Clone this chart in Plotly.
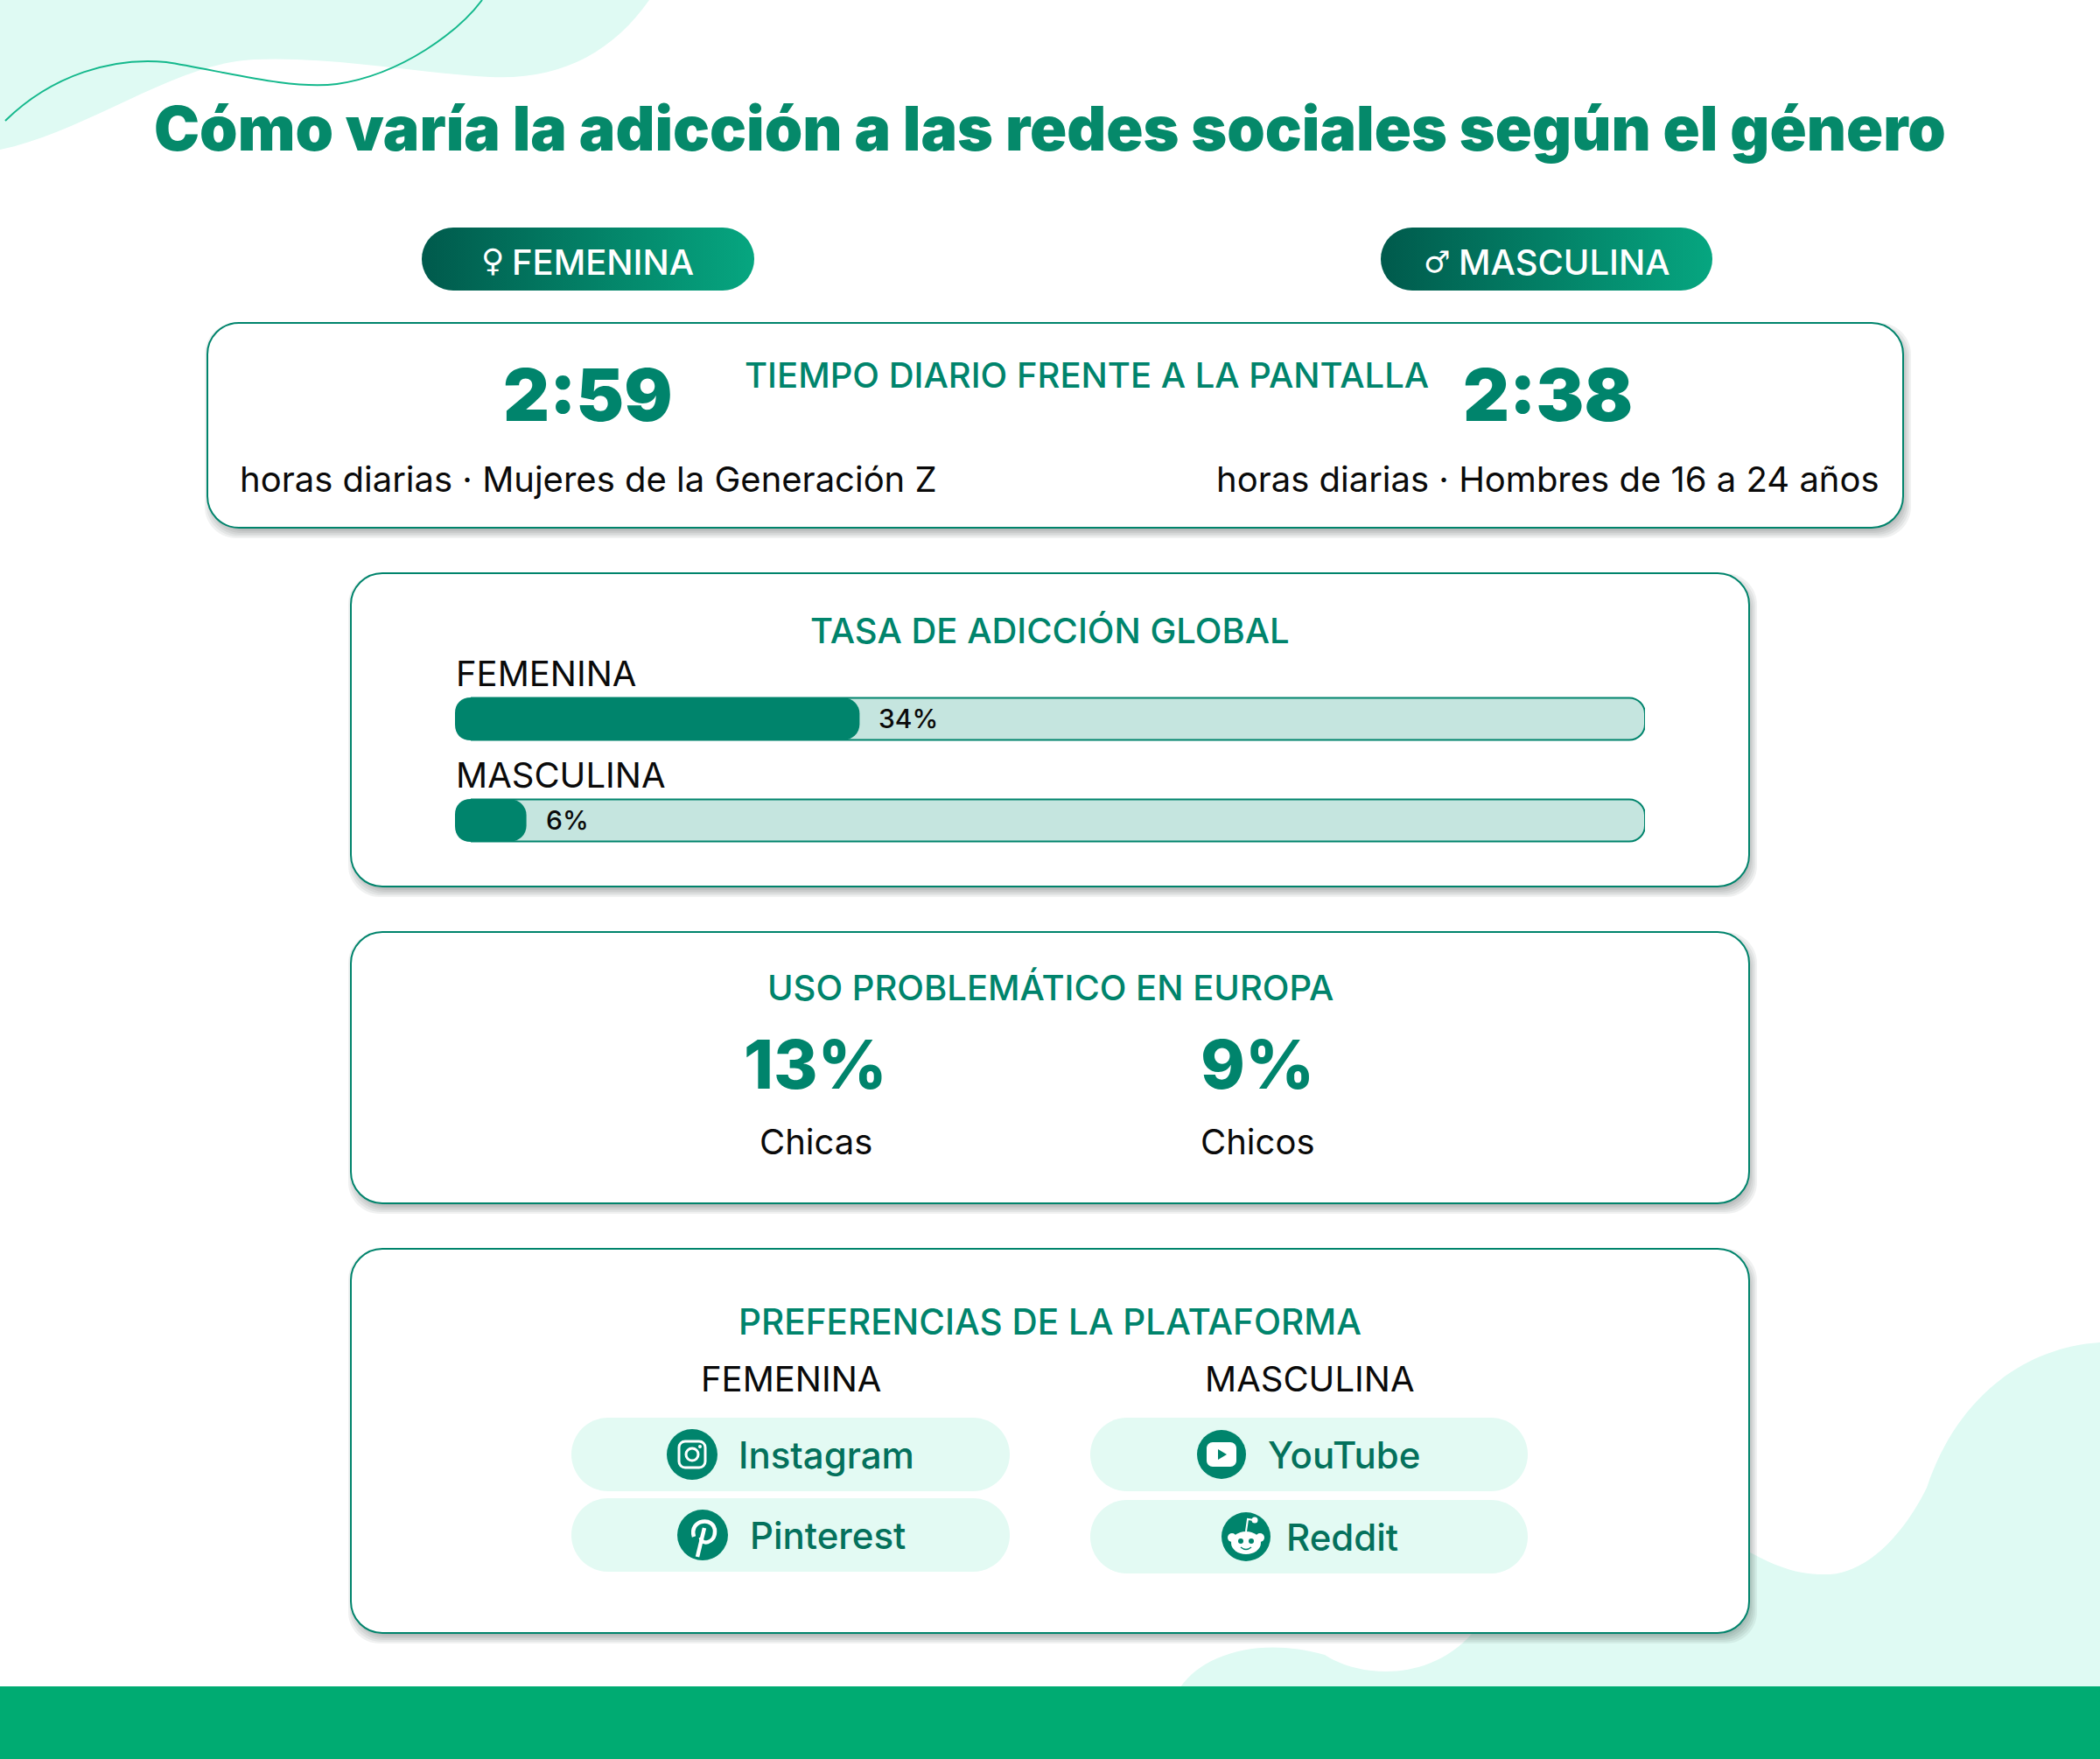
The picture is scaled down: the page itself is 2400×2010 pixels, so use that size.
import math
import plotly.graph_objects as go

# data
title = "Cómo varía la adicción a las redes sociales según el género"
genders = ["FEMENINA", "MASCULINA"]
gender_symbols = ["♀", "♂"]
screen_times = ["2:59", "2:38"]
screen_notes = ["horas diarias · Mujeres de la Generación Z", "horas diarias · Hombres de 16 a 24 años"]
addiction_rates = [34, 6]
problem_values = ["13%", "9%"]
problem_groups = ["Chicas", "Chicos"]
platforms_f = ["Instagram", "Pinterest"]
platforms_m = ["YouTube", "Reddit"]

GREEN = "#00846C"
TITLE_GREEN = "#05896A"
DARK_TEXT = "#04715C"
BLOB = "#DFFAF3"
PILL = "#E3FAF3"
TRACK = "#C5E5DF"
BAND = "#00AB72"
FONT = "Inter"

shapes = []
annotations = []


def rrect(x0, y0, x1, y1, r):
    k = r * 0.448
    return (f"M {x0+r} {y0} L {x1-r} {y0} C {x1-k} {y0} {x1} {y0+k} {x1} {y0+r} L {x1} {y1-r} "
            f"C {x1} {y1-k} {x1-k} {y1} {x1-r} {y1} L {x0+r} {y1} C {x0+k} {y1} {x0} {y1-k} {x0} {y1-r} "
            f"L {x0} {y0+r} C {x0} {y0+k} {x0+k} {y0} {x0+r} {y0} Z")


def add_path(d, fill=None, line=None, lw=0, layer="below"):
    s = dict(type="path", path=d, xref="x", yref="y", layer=layer,
             line=dict(width=lw, color=line if line else "rgba(0,0,0,0)"))
    if fill:
        s["fillcolor"] = fill
    shapes.append(s)


def add_circle(cx, cy, r, fill=None, line=None, lw=0, layer="above"):
    s = dict(type="circle", x0=cx-r, x1=cx+r, y0=cy-r, y1=cy+r, xref="x", yref="y", layer=layer,
             line=dict(width=lw, color=line if line else "rgba(0,0,0,0)"))
    if fill:
        s["fillcolor"] = fill
    shapes.append(s)


def add_text(txt, x, y, size, color="#0A0A0A", weight=400, anchor="center", family=FONT):
    annotations.append(dict(text=txt, x=x, y=y, xref="x", yref="y", showarrow=False,
                            xanchor=anchor, yanchor="middle",
                            font=dict(family=family, size=size, color=color, weight=weight)))


def card(x0, y0, x1, y1, r=36):
    # soft shadow built from stacked transparent boxes
    for k in range(6, -6, -2):
        add_path(rrect(x0+3-k, y0+6-k, x1+3+k, y1+6+k, r), fill="rgba(40,50,50,0.07)")
    add_path(rrect(x0, y0, x1, y1, r), fill="white", line=GREEN, lw=2)


# background blobs
add_path("M 0 0 L 742 0 C 700 60 640 92 560 88 C 480 84 380 64 290 68 C 200 72 100 150 0 171 Z", fill=BLOB)
add_path("M 1349 1928 C 1375 1890 1440 1870 1514 1891 C 1550 1915 1630 1925 1682 1867 "
         "L 2000 1774 C 2040 1795 2060 1800 2092 1799 C 2140 1795 2180 1745 2202 1700 "
         "C 2235 1600 2310 1540 2400 1534 L 2400 1928 Z", fill=BLOB)
add_path("M 6 138 C 60 85 130 65 190 71 C 250 80 330 103 385 96 C 460 85 525 35 551 0",
         line="#14B88C", lw=2)
add_path("M 0 1927 L 2400 1927 L 2400 2010 L 0 2010 Z", fill=BAND)

# cards
card(237, 369, 2175, 603)
card(401, 655, 1999, 1013)
card(401, 1065, 1999, 1375)
card(401, 1427, 1999, 1866)

fig = go.Figure()

# gradient pills on top
for x0, x1 in [(482, 862), (1578, 1957)]:
    y0, y1, r = 260, 332, 36
    xs, ys = [], []
    for i in range(21):
        a = math.pi * i / 20
        xs.append(x1 - r + r * math.sin(a))
        ys.append(y0 + r - r * math.cos(a))
    for i in range(21):
        a = math.pi * i / 20
        xs.append(x0 + r - r * math.sin(a))
        ys.append(y1 - r + r * math.cos(a))
    fig.add_trace(go.Scatter(x=xs, y=ys, mode="none", fill="toself", hoverinfo="skip", showlegend=False,
                             fillgradient=dict(type="horizontal",
                                               colorscale=[[0, "#005A4C"], [1, "#06A680"]])))

# progress bars, fill sits on its own axes so its far end gets rounded too
fig.add_trace(go.Bar(y=genders, x=[100, 100], orientation="h", xaxis="x2", yaxis="y2", width=0.414,
                     marker=dict(color=TRACK, line=dict(color=GREEN, width=2), cornerradius=18),
                     hoverinfo="skip", showlegend=False))
fig.add_trace(go.Bar(y=genders, x=addiction_rates, orientation="h", xaxis="x3", yaxis="y3", width=0.414,
                     marker=dict(color=GREEN, line=dict(color=GREEN, width=0), cornerradius=18),
                     showlegend=False))
for g, v in zip(genders, addiction_rates):
    annotations.append(dict(text=f"{v}%", x=v, y=g, xref="x3", yref="y3", showarrow=False, xanchor="left",
                            xshift=20, font=dict(family=FONT, size=30, color="#0A0A0A", weight=500)))

# white corners for the left end of the bars
for top, bot in [(797, 846), (913, 962)]:
    r = 18
    add_path(f"M 518 {top-2} L {520+r} {top-2} L {520+r} {top} C 527 {top} 520 {top+7} 520 {top+r} L 518 {top+r} Z",
             fill="white", layer="above")
    add_path(f"M 518 {bot+2} L {520+r} {bot+2} L {520+r} {bot} C 527 {bot} 520 {bot-7} 520 {bot-r} L 518 {bot-r} Z",
             fill="white", layer="above")

# header
add_text(title, 1200, 146, 69.7, TITLE_GREEN, 900)
add_text(gender_symbols[0], 563, 297, 36, "white", 400, family="DejaVu Sans")
add_text(genders[0], 689, 299, 40, "white", 500)
add_text(gender_symbols[1], 1642, 299, 34, "white", 400, family="DejaVu Sans")
add_text(genders[1], 1788, 299, 40, "white", 500)

# screen time card
add_text("TIEMPO DIARIO FRENTE A LA PANTALLA", 1242, 428, 40, GREEN, 500)
add_text(screen_times[0], 672, 451, 82, GREEN, 900)
add_text(screen_times[1], 1769, 451, 82, GREEN, 900)
add_text(screen_notes[0], 672, 547, 40)
add_text(screen_notes[1], 1769, 547, 40)

# global rate card
add_text("TASA DE ADICCIÓN GLOBAL", 1200, 720, 40, GREEN, 500)
add_text(genders[0], 519, 769, 40, anchor="left")
add_text(genders[1], 519, 885, 40, anchor="left")

# europe card
add_text("USO PROBLEMÁTICO EN EUROPA", 1200, 1128, 40, GREEN, 500)
add_text(problem_values[0], 932, 1216, 77, GREEN, 800)
add_text(problem_values[1], 1437, 1216, 77, GREEN, 800)
add_text(problem_groups[0], 932, 1304, 40)
add_text(problem_groups[1], 1437, 1304, 40)

# platform card
add_text("PREFERENCIAS DE LA PLATAFORMA", 1200, 1510, 40.5, GREEN, 500)
add_text(genders[0], 904, 1575, 40)
add_text(genders[1], 1496, 1575, 40)
add_path(rrect(653, 1620, 1154, 1704, 42), fill=PILL)
add_path(rrect(653, 1712, 1154, 1796, 42), fill=PILL)
add_path(rrect(1246, 1620, 1746, 1704, 42), fill=PILL)
add_path(rrect(1246, 1714, 1746, 1798, 42), fill=PILL)
add_text(platforms_f[0], 944, 1662, 42, DARK_TEXT, 500)
add_text(platforms_f[1], 946, 1754, 42, DARK_TEXT, 500)
add_text(platforms_m[0], 1536, 1662, 42, DARK_TEXT, 500)
add_text(platforms_m[1], 1534, 1756, 42, DARK_TEXT, 500)

# icons
cx, cy = 791, 1662
add_circle(cx, cy, 29, GREEN)
add_path(rrect(cx-15, cy-15, cx+15, cy+15, 7), line="white", lw=3, layer="above")
add_circle(cx, cy, 7, line="white", lw=3)
add_circle(cx+9, cy-9, 2, "white")

cx, cy = 803, 1754
add_circle(cx, cy, 29, GREEN)
add_path(f"M {cx-10} {cy+2} C {cx-16} {cy-18} {cx+14} {cy-22} {cx+14} {cy-4} "
         f"C {cx+14} {cy+10} {cx-2} {cy+12} {cx-2} {cy+3}", line="white", lw=4.5, layer="above")
add_path(f"M {cx+2} {cy-8} L {cx-6} {cy+25}", line="white", lw=4.5, layer="above")

cx, cy = 1396, 1662
add_circle(cx, cy, 28, GREEN)
add_path(rrect(cx-17, cy-14, cx+17, cy+14, 7), fill="white", layer="above")
add_path(f"M {cx-4} {cy-6} L {cx+6} {cy} L {cx-4} {cy+6} Z", fill=GREEN, layer="above")

cx, cy = 1424, 1756
add_circle(cx, cy, 28, GREEN)
add_circle(cx-16, cy+1, 5, "white")
add_circle(cx+16, cy+1, 5, "white")
shapes.append(dict(type="circle", x0=cx-17, x1=cx+17, y0=cy-6, y1=cy+20, xref="x", yref="y", layer="above",
                   fillcolor="white", line=dict(width=0)))
add_path(f"M {cx} {cy-6} L {cx+2} {cy-20} L {cx+9} {cy-19}", line="white", lw=2, layer="above")
add_circle(cx+10, cy-19, 3.5, "white")
add_circle(cx-6, cy+5, 3, GREEN)
add_circle(cx+6, cy+5, 3, GREEN)
add_path(f"M {cx-6} {cy+12} Q {cx} {cy+17} {cx+6} {cy+12}", line=GREEN, lw=1.5, layer="above")

bar_x_domain = [520/2400, 1880/2400]
bar_y_domain = [1-995.5/2010, 1-763.5/2010]

fig.update_layout(
    width=2400, height=2010,
    margin=dict(l=0, r=0, t=0, b=0),
    paper_bgcolor="white", plot_bgcolor="rgba(0,0,0,0)",
    barmode="overlay", showlegend=False,
    shapes=shapes, annotations=annotations,
    xaxis=dict(range=[0, 2400], domain=[0, 1], visible=False, fixedrange=True),
    yaxis=dict(range=[2010, 0], domain=[0, 1], visible=False, fixedrange=True),
    xaxis2=dict(range=[0, 100], domain=bar_x_domain, anchor="y2", visible=False, fixedrange=True),
    yaxis2=dict(type="category", categoryorder="array", categoryarray=genders[::-1], range=[-0.5, 1.5],
                domain=bar_y_domain, anchor="x2", visible=False, fixedrange=True),
    xaxis3=dict(range=[0, 100], domain=bar_x_domain, anchor="y3", visible=False, fixedrange=True),
    yaxis3=dict(type="category", categoryorder="array", categoryarray=genders[::-1], range=[-0.5, 1.5],
                domain=bar_y_domain, anchor="x3", visible=False, fixedrange=True),
)

# the page body has a default margin, drop it so the chart starts at 0,0
fig.write_html("out.html", config={"displayModeBar": False},
               post_script="document.body.style.margin='0';")
